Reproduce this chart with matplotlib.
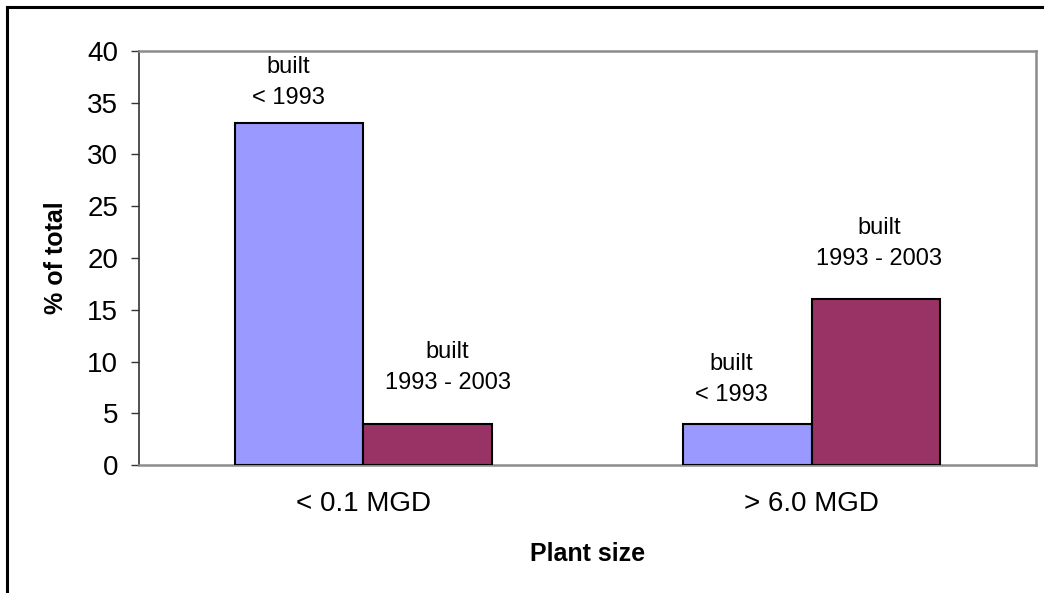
import matplotlib
matplotlib.use('Agg')
import matplotlib.pyplot as plt
from matplotlib.lines import Line2D
import numpy as np

# share of plants by size class and construction period
sizes = ['< 0.1 MGD', '> 6.0 MGD']
built_before = [33, 4]
built_recent = [4, 16]
label_before = 'built\n< 1993'
label_recent = 'built\n1993 - 2003'

BLUE = '#9999ff'
MAROON = '#993366'

plt.rcParams['font.family'] = ['Liberation Sans', 'DejaVu Sans']

fig = plt.figure(figsize=(10.44, 5.93), dpi=100)
ax = fig.add_axes([139 / 1044, 1 - 465 / 593, 897 / 1044, 414 / 593])

x = np.arange(len(sizes))
w = 0.2866
bars_a = ax.bar(x - w / 2, built_before, w, color=BLUE, edgecolor='black', linewidth=1.5, zorder=3)
bars_b = ax.bar(x + w / 2, built_recent, w, color=MAROON, edgecolor='black', linewidth=1.5, zorder=3)

# label offsets (pixels) relative to each bar's top centre
offs_a = [(-11, 41), (-16, 44)]
offs_b = [(20, 56), (3, 56)]
for bars, vals, text, offs in [(bars_a, built_before, label_before, offs_a),
                               (bars_b, built_recent, label_recent, offs_b)]:
    for b, v, (dx, dy) in zip(bars, vals, offs):
        ax.annotate(text, xy=(b.get_x() + b.get_width() / 2, v), xytext=(dx, dy),
                    textcoords='offset pixels', ha='center', va='center',
                    fontsize=17, linespacing=1.5)

ax.set_xlim(-0.5, 1.5)
ax.set_ylim(0, 40)
ax.set_yticks(range(0, 41, 5))
ax.set_xticks(x)
ax.set_xticklabels(sizes)
ax.tick_params(axis='y', length=6, width=1, color='#333333', labelsize=20, pad=9)
ax.tick_params(axis='x', length=0, labelsize=20, pad=19)

ax.spines['left'].set_color('#333333')
ax.spines['left'].set_linewidth(1.2)
for s in ['top', 'right', 'bottom']:
    ax.spines[s].set_color('#8c8c8c')
    ax.spines[s].set_linewidth(1.8)

ax.set_ylabel('% of total', fontsize=18, fontweight='bold', labelpad=14)
ax.set_xlabel('Plant size', fontsize=18, fontweight='bold', labelpad=18)

# outer frame along top and left edges
fig.add_artist(Line2D([7 / 1044, 7 / 1044], [0, 1 - 7 / 593], color='black', lw=2.2))
fig.add_artist(Line2D([7 / 1044, 1], [1 - 7 / 593, 1 - 7 / 593], color='black', lw=2.2))

fig.savefig('out.png', dpi=100)
